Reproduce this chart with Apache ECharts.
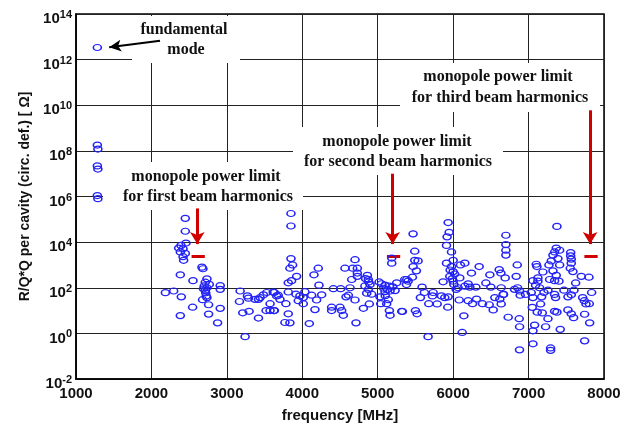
<!DOCTYPE html>
<html><head><meta charset="utf-8">
<script src="https://cdn.jsdelivr.net/npm/echarts@6/dist/echarts.min.js"></script>
<style>html,body{margin:0;padding:0;background:#fff}#c{width:629px;height:428px}</style>
</head><body><div id="c"></div>
<script>
// ---- data (frequency in MHz, R/Q*Q per cavity in Ohm) ----
const fundFreq = [1283, 1283, 1290, 1283, 1290, 1283, 1290];
const fundRQQ  = [3.4e12, 1.8e8, 1.2e8, 2.2e7, 1.6e7, 1.1e6, 8e5];

const homFreq = [
 2449,2449,2458,2392,2361,2419,2383,2449,2419,2427,2670,2683,2383,2551,2736,2714,2767,2912,2736,2912,
 2185,2295,2714,2727,2736,2396,2678,2758,2546,2912,2758,2383,2877,3176,3167,3273,3286,3374,3419,3441,
 3485,3529,3630,3661,3573,3520,3573,3630,3211,3295,3419,3242,2700,2690,2720,
 3850,3850,3850,3872,3836,3925,3858,3814,4212,4155,4221,4566,4668,4699,4730,4730,4730,4655,4412,4509,
 4633,4863,4876,4898,4876,4854,4920,5018,5097,5155,5252,5385,5097,5164,5040,5119,5155,5164,5319,5186,
 5186,3615,3681,3704,3783,3624,3814,3770,3836,4093,3916,3969,3947,4013,4035,4124,4257,4190,4013,4168,
 4389,4389,4500,4522,4544,4580,4611,4699,4810,4889,4712,3814,
 5050,5080,5130,5200,5230,5030,5100,5140,4840,4880,4830,
 5934,5947,5920,5469,5912,5491,5491,5535,5469,5513,5460,5978,6000,5912,5978,6000,5956,6000,5867,6097,
 6155,6345,6243,6088,6199,6221,6301,6066,6155,6487,6434,6500,6611,6633,6690,6699,6699,6699,6699,6664,
 6619,6553,6478,6531,6389,6310,6257,6199,6080,5934,5889,5845,5735,5726,5619,5588,5566,5677,5788,5929,
 5500,5522,5327,6142,6120,5668,5381,5403,5359,6730,5990,6020,6010,5960,6040,
 7376,7367,7412,7345,7323,7389,7301,7270,7412,7558,7558,7566,7566,7553,7588,7323,7367,7345,7403,7279,
 7102,7111,7190,7124,7058,7124,7093,7146,6850,6836,7699,7801,7624,7469,7602,7836,7257,7204,6854,6814,
 6881,7035,6960,6637,6668,6889,7058,7173,7345,7358,7522,7566,7717,7739,7761,7805,6637,7049,7159,7115,
 7181,7345,7376,7522,7566,7597,7257,6876,7743,7810,6881,7080,7226,7058,7420,7058,6880,7292,7292,7743
];
const homRQQ = [
 1.1e5,3.0e4,9.1e3,7.2e3,5.5e3,5.1e3,3.7e3,3.2e3,2.3e3,1.6e3,800,680,370,205,245,175,140,125,100,85,
 61,72,77,44,37,40,30,18,14,12.5,7,6,2.9,72,25,44,35,31,31,37,
 49,62,62,44,20,10,10,10,8,9.3,4.7,0.72,120,90,60,
 1.8e5,5.1e4,1.9e3,1.0e3,720,316,205,165,720,370,130,720,720,1.7e3,720,440,316,230,91,91,
 100,350,230,140,85,58,52,180,130,117,165,230,67,72,20,20,10,6.2,9.3,2.0e3,
 1.2e3,64,47,31,20,10,7.2,3.0,2.9,2.7,52,44,27,37,67,47,49,29,20,11,
 14,10,14,10,6.2,40,47,29,12.6,19.5,2.9,65,
 150,95,85,110,75,40,45,30,250,180,120,
 7.2e4,2.7e4,1.7e4,2.3e4,7.2e3,4.0e3,1.6e3,1.5e3,850,550,290,3.7e3,1.6e3,1.2e3,850,510,316,195,182,1.0e3,
 1.2e3,850,440,270,148,107,107,100,117,370,162,107,620,440,270,2.0e4,7.8e3,4.4e3,2.7e3,51,
 32,37,18,10.7,20,32,20,27,29,40,37,44,62,44,62,107,37,20,19.5,14,
 10,7.2,9.1,5.9,1.1,0.72,138,195,230,5.1,250,400,140,600,85,
 4.9e4,5.5e3,4.4e3,3.7e3,2.7e3,1.9e3,1.5e3,1.0e3,1.0e3,3.5e3,2.5e3,1.8e3,1.2e3,720,510,550,350,205,195,230,
 1.07e3,850,490,270,205,195,129,100,1.0e3,316,316,290,162,78,78,62,78,62,100,85,
 72,62,51,100,51,47,37,40,51,37,40,49,37,27,19.5,20,19.5,13.8,19.5,8.5,
 7.9,9.3,8.5,10.7,7.2,4.9,4.4,4.4,6.9,2.9,1.95,2.3,1.95,1.3,1.5,0.35,0.19,0.23,0.18,0.47
];

// monopole power limits for 1st/2nd/3rd beam harmonics
const limitFreq = [2620, 5210, 7828];
const limitRQQ  = [2300, 2400, 2400];

const xTickStep = 1000;
const yExpStep = 2;

const points = fundFreq.map((f,i)=>[f,fundRQQ[i]]).concat(homFreq.map((f,i)=>[f,homRQQ[i]]));

const RED = '#d00000';
const dashHalf = 88;
const arrowTops = [3e5, 1e7, 6e9];
const arrowEnd = 8.2e3;
const limitLines = [];
limitFreq.forEach((f,i)=>{
  limitLines.push([
    {coord:[f - dashHalf, limitRQQ[i]], symbol:'none', lineStyle:{color:RED,width:3,type:'solid'}},
    {coord:[f + dashHalf, limitRQQ[i]], symbol:'none'}
  ]);
  limitLines.push([
    {coord:[f - 12, arrowTops[i]], symbol:'none', lineStyle:{color:RED,width:3,type:'solid'}},
    {coord:[f - 12, arrowEnd], symbol:'arrow', symbolSize:[11,12]}
  ]);
});
limitLines.push([
  {coord:[2114, 6.8e12], symbol:'none', lineStyle:{color:'#000',width:2,type:'solid'}},
  {coord:[1440, 3.5e12], symbol:'arrow', symbolSize:[9,12]}
]);

const SANS = '"Liberation Sans", Arial, sans-serif';
const SERIF = '"Liberation Serif", "Times New Roman", serif';

const boxes = [
  [132,16,108,47],[103,162,200,48],[293,127,210,48],[400,63,200,49]
];
const texts = [
  ['fundamental',184,30],['mode',186,50],
  ['monopole power limit',206,177],['for first beam harmonics',208,197],
  ['monopole power limit',397,142],['for second beam harmonics',398,162],
  ['monopole power limit',498,77],['for third beam harmonics',500,98]
];
const graphic = [];
boxes.forEach(b=>graphic.push({type:'rect',z:1,shape:{x:b[0],y:b[1],width:b[2],height:b[3]},style:{fill:'#fff'},silent:true}));
texts.forEach(t=>graphic.push({type:'text',z:2,x:t[1],y:t[2],style:{text:t[0],fill:'#111',font:'bold 16px '+SERIF,align:'center',verticalAlign:'middle'},silent:true}));

const chart = echarts.init(document.getElementById('c'), null, {renderer:'canvas'});
chart.setOption({
  animation:false,
  backgroundColor:'#fff',
  grid:{left:76,right:25,top:14,bottom:46,show:true,borderColor:'#000',borderWidth:1.5,backgroundColor:'transparent'},
  xAxis:{
    type:'value',min:1000,max:8000,interval:xTickStep,
    name:'frequency [MHz]',nameLocation:'middle',nameGap:29,
    nameTextStyle:{fontFamily:SANS,fontWeight:'bold',fontSize:15,color:'#111'},
    axisLine:{show:true,onZero:false,lineStyle:{color:'#000',width:1.5}},
    axisTick:{show:false},
    axisLabel:{fontFamily:SANS,fontWeight:'bold',fontSize:15,color:'#111',margin:7,formatter:v=>String(v)},
    splitLine:{show:true,lineStyle:{color:'#222',width:1}}
  },
  yAxis:{
    type:'log',logBase:10,min:1e-2,max:1e14,interval:yExpStep,
    name:'R/Q*Q per cavity (circ. def.) [ Ω]',nameLocation:'middle',nameGap:39,
    nameTextStyle:{fontFamily:SANS,fontWeight:'bold',fontSize:14,color:'#111'},
    axisLine:{show:true,onZero:false,lineStyle:{color:'#000',width:1.5}},
    axisTick:{show:false},
    axisLabel:{
      margin:4,padding:[8,0,0,0],
      formatter:v=>{const e=Math.round(Math.log10(v));return '{b|10}{s|'+e+'}';},
      rich:{
        b:{fontFamily:SANS,fontWeight:'bold',fontSize:15,color:'#111',verticalAlign:'bottom'},
        s:{fontFamily:SANS,fontWeight:'bold',fontSize:11,color:'#111',verticalAlign:'top',padding:[0,0,6,0]}
      }
    },
    splitLine:{show:true,lineStyle:{color:'#222',width:1}}
  },
  graphic:graphic,
  series:[{
    type:'scatter',z:5,
    symbol:'circle',symbolSize:[8,6],
    itemStyle:{color:'rgba(0,0,0,0)',borderColor:'#2323f5',borderWidth:1.4,opacity:1},
    data:points,
    markLine:{silent:true,animation:false,symbol:['none','none'],label:{show:false},data:limitLines}
  }]
});
</script></body></html>
